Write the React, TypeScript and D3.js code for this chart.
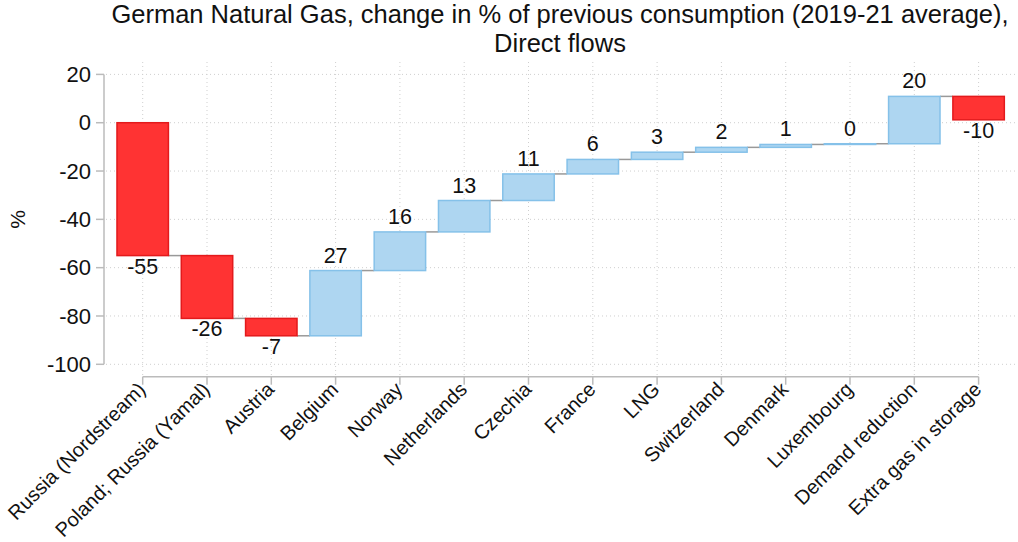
import React, { useEffect } from "react";
import * as d3 from "d3";

const categories = [
  "Russia (Nordstream)",
  "Poland; Russia (Yamal)",
  "Austria",
  "Belgium",
  "Norway",
  "Netherlands",
  "Czechia",
  "France",
  "LNG",
  "Switzerland",
  "Denmark",
  "Luxembourg",
  "Demand reduction",
  "Extra gas in storage",
];
const changes = [-55, -26, -7.2, 27, 16, 13, 11, 6, 3, 2, 1.2, 0.3, 19.6, -9.7];
const yTicks = [-100, -80, -60, -40, -20, 0, 20];
const titleLines = [
  "German Natural Gas, change in % of previous consumption (2019-21 average),",
  "Direct flows",
];

const W = 1018;
const H = 542;
const FONT = "'Liberation Sans', Arial, sans-serif";

export default function App() {
  useEffect(() => {
    document.body.style.margin = "0";
  }, []);

  const x = d3.scalePoint<string>().domain(categories).range([142.7, 978.6]);
  const y = d3.scaleLinear().domain([-100, 20]).range([364.3, 74.4]);
  const bw = x.step() * 0.8;

  let cum = 0;
  const bars = changes.map((v, i) => {
    const start = cum;
    cum += v;
    return { cat: categories[i], v, start, end: cum };
  });

  const plotLeft = 104;
  const plotRight = W;
  const plotTop = 62;
  const xAxisY = 376.7;

  return (
    <div style={{ position: "absolute", left: 0, top: 0 }}>
      <svg width={W} height={H} style={{ display: "block", fontFamily: FONT }}>
        <rect width={W} height={H} fill="#fff" />
        {/* title */}
        {titleLines.map((t, i) => (
          <text key={i} x={560} y={23 + i * 28.5} textAnchor="middle" fontSize={25.5} fill="#111">
            {t}
          </text>
        ))}
        {/* grid */}
        {yTicks.map((t) => (
          <line
            key={"gy" + t}
            x1={plotLeft + 2}
            x2={plotRight}
            y1={y(t)}
            y2={y(t)}
            stroke="#cfcfcf"
            strokeWidth={1}
            strokeDasharray="1,3"
          />
        ))}
        {categories.map((c) => (
          <line
            key={"gx" + c}
            x1={x(c)}
            x2={x(c)}
            y1={plotTop}
            y2={xAxisY}
            stroke="#cfcfcf"
            strokeWidth={1}
            strokeDasharray="1,3"
          />
        ))}
        {/* y axis */}
        <line x1={plotLeft} x2={plotLeft} y1={y(20)} y2={y(-100)} stroke="#bbb" strokeWidth={1.5} />
        {yTicks.map((t) => (
          <g key={"yt" + t}>
            <line x1={plotLeft - 8} x2={plotLeft} y1={y(t)} y2={y(t)} stroke="#bbb" strokeWidth={1.5} />
            <text x={plotLeft - 13} y={y(t)} dy="0.35em" textAnchor="end" fontSize={22} fill="#111">
              {t}
            </text>
          </g>
        ))}
        <text
          transform={`translate(25,${(plotTop + xAxisY) / 2}) rotate(-90)`}
          textAnchor="middle"
          fontSize={21}
          fill="#111"
        >
          %
        </text>
        {/* x axis */}
        <line
          x1={x(categories[0])}
          x2={x(categories[categories.length - 1])}
          y1={xAxisY}
          y2={xAxisY}
          stroke="#bbb"
          strokeWidth={1.5}
        />
        {categories.map((c) => (
          <g key={"xt" + c}>
            <line x1={x(c)} x2={x(c)} y1={xAxisY} y2={xAxisY + 8} stroke="#bbb" strokeWidth={1.5} />
            <text
              transform={`translate(${(x(c) as number) + 4},${xAxisY + 14}) rotate(-45)`}
              textAnchor="end"
              fontSize={20}
              fill="#111"
            >
              {c}
            </text>
          </g>
        ))}
        {/* connectors */}
        {bars.slice(0, -1).map((b, i) => (
          <line
            key={"cn" + i}
            x1={(x(b.cat) as number) + bw / 2}
            x2={(x(categories[i + 1]) as number) - bw / 2}
            y1={y(b.end)}
            y2={y(b.end)}
            stroke="#999"
            strokeWidth={1.5}
          />
        ))}
        {/* bars */}
        {bars.map((b) => {
          const neg = b.v < 0;
          const top = y(Math.max(b.start, b.end));
          const bot = y(Math.min(b.start, b.end));
          return (
            <g key={"b" + b.cat}>
              <rect
                x={(x(b.cat) as number) - bw / 2}
                y={top}
                width={bw}
                height={Math.max(bot - top, 0.5)}
                fill={neg ? "#ff3333" : "#aed6f1"}
                stroke={neg ? "#e31a1c" : "#85c1e9"}
                strokeWidth={1.5}
              />
              <text
                x={x(b.cat)}
                y={neg ? bot + 18 : top - 8}
                textAnchor="middle"
                fontSize={21.5}
                fill="#111"
              >
                {Math.round(b.v)}
              </text>
            </g>
          );
        })}
      </svg>
    </div>
  );
}
